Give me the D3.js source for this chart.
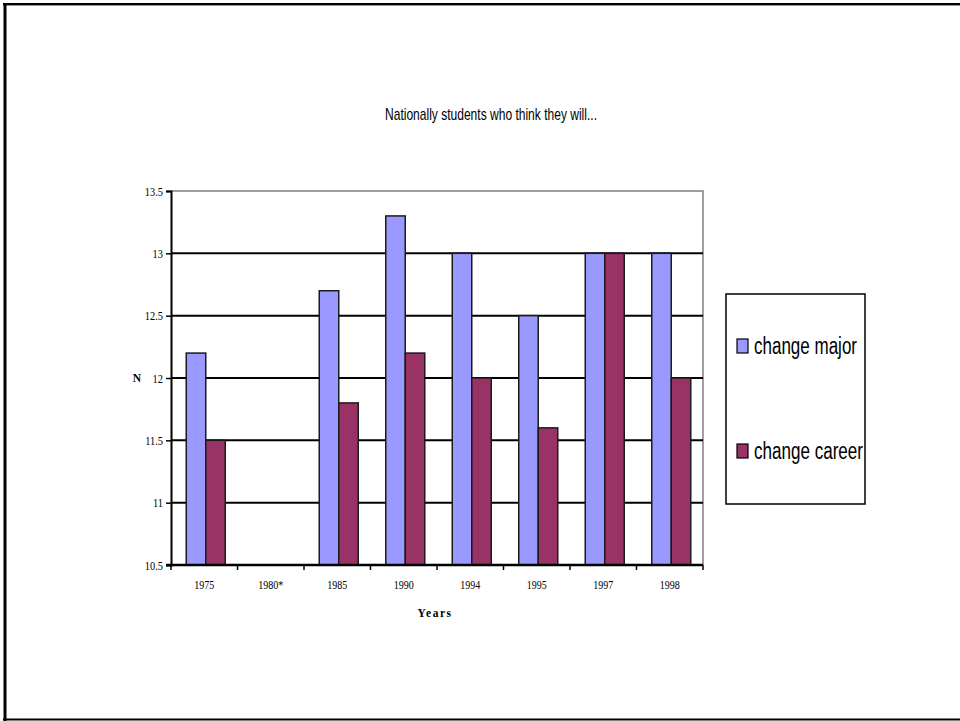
<!DOCTYPE html>
<html>
<head>
<meta charset="utf-8">
<script src="https://cdn.jsdelivr.net/npm/d3@7"></script>
<style>
  html, body { margin: 0; padding: 0; background: #fff; }
  svg { display: block; }
</style>
</head>
<body>
<svg id="chart" width="960" height="721"></svg>
<script>
// Survey years and the share of students expecting each change
const years = ["1975", "1980*", "1985", "1990", "1994", "1995", "1997", "1998"];
const changeMajor = [12.2, null, 12.7, 13.3, 13.0, 12.5, 13.0, 13.0];
const changeCareer = [11.5, null, 11.8, 12.2, 12.0, 11.6, 13.0, 12.0];
const seriesNames = ["change major", "change career"];
const seriesColors = ["#9999FF", "#993366"];
const yTicks = [10.5, 11, 11.5, 12, 12.5, 13, 13.5];

const svg = d3.select("#chart");

// Slide frame
svg.append("line").attr("x1", 3).attr("x2", 960).attr("y1", 4).attr("y2", 4)
  .attr("stroke", "#000").attr("stroke-width", 2);
svg.append("line").attr("x1", 3).attr("x2", 960).attr("y1", 5.5).attr("y2", 5.5)
  .attr("stroke", "#999").attr("stroke-width", 1);
svg.append("line").attr("x1", 5).attr("x2", 5).attr("y1", 3).attr("y2", 721)
  .attr("stroke", "#000").attr("stroke-width", 3);
svg.append("line").attr("x1", 3).attr("x2", 960).attr("y1", 719.5).attr("y2", 719.5)
  .attr("stroke", "#000").attr("stroke-width", 2);

// Title
svg.append("text")
  .attr("x", 385).attr("y", 120)
  .attr("font-family", "Liberation Sans, Arial, sans-serif")
  .attr("font-size", 17)
  .attr("textLength", 212).attr("lengthAdjust", "spacingAndGlyphs")
  .attr("fill", "#000")
  .text("Nationally students who think they will...");

const plot = { left: 171, right: 703, top: 191, bottom: 565 };

const x = d3.scaleBand().domain(years).range([plot.left, plot.right]);
const y = d3.scaleLinear().domain([10.5, 13.5]).range([plot.bottom, plot.top]);

// Plot area border (top and right)
svg.append("path")
  .attr("d", `M${plot.left},${plot.top}H${plot.right}V${plot.bottom}`)
  .attr("fill", "none").attr("stroke", "#808080").attr("stroke-width", 1.5);

// Gridlines
svg.append("g").selectAll("line")
  .data(yTicks.filter(t => t > 10.5 && t < 13.5))
  .join("line")
  .attr("x1", plot.left).attr("x2", plot.right)
  .attr("y1", d => y(d)).attr("y2", d => y(d))
  .attr("stroke", "#000").attr("stroke-width", 2);

// Bars
const barW = 19.5;
const groups = svg.append("g").selectAll("g")
  .data(years.map((yr, i) => ({ yr, vals: [changeMajor[i], changeCareer[i]] })))
  .join("g");

groups.selectAll("rect")
  .data(d => d.vals.map((v, k) => ({ yr: d.yr, v, k })).filter(e => e.v != null))
  .join("rect")
  .attr("x", d => x(d.yr) + x.bandwidth() / 2 - barW + 1.5 + d.k * barW)
  .attr("y", d => y(d.v))
  .attr("width", barW)
  .attr("height", d => y(10.5) - y(d.v))
  .attr("fill", d => seriesColors[d.k])
  .attr("stroke", "#1a1a1a").attr("stroke-width", 1.5);

// Y axis
const sx = 0.8;
const yAxis = svg.append("g")
  .attr("transform", `translate(${plot.left},0)`)
  .call(d3.axisLeft(y).tickValues(yTicks).tickSize(5).tickPadding(5).tickFormat(d3.format("")));
yAxis.select(".domain").attr("stroke", "#000").attr("stroke-width", 2);
yAxis.selectAll(".tick line").attr("stroke", "#000").attr("stroke-width", 1.5);
yAxis.selectAll("text")
  .attr("font-family", "Liberation Serif, Times New Roman, serif")
  .attr("font-size", 13).attr("fill", "#000")
  .attr("transform", `scale(${sx},1)`)
  .attr("x", -8 / sx);

// X axis with ticks at category boundaries
const xAxisG = svg.append("g").attr("transform", `translate(0,${plot.bottom})`);
xAxisG.append("line").attr("x1", plot.left - 5).attr("x2", plot.right)
  .attr("y1", 0).attr("y2", 0).attr("stroke", "#000").attr("stroke-width", 2.5);
xAxisG.selectAll("line.tk")
  .data(years.map(d => x(d)).concat([plot.right]))
  .join("line").attr("class", "tk")
  .attr("x1", d => d).attr("x2", d => d).attr("y1", 0).attr("y2", 5)
  .attr("stroke", "#000").attr("stroke-width", 1.5);
xAxisG.selectAll("text")
  .data(years)
  .join("text")
  .attr("transform", d => `translate(${x(d) + x.bandwidth() / 2},24) scale(${sx},1)`)
  .attr("text-anchor", "middle")
  .attr("font-family", "Liberation Serif, Times New Roman, serif")
  .attr("font-size", 12.5).attr("fill", "#000")
  .text(d => d);

// Axis titles
svg.append("text")
  .attr("x", 435).attr("y", 617)
  .attr("text-anchor", "middle")
  .attr("font-family", "Liberation Serif, Times New Roman, serif")
  .attr("font-weight", "bold").attr("font-size", 11.5)
  .attr("letter-spacing", 1.5)
  .text("Years");
svg.append("text")
  .attr("x", 137).attr("y", 382)
  .attr("text-anchor", "middle")
  .attr("font-family", "Liberation Serif, Times New Roman, serif")
  .attr("font-weight", "bold").attr("font-size", 11.5)
  .text("N");

// Legend
const legend = svg.append("g");
legend.append("rect")
  .attr("x", 726).attr("y", 294).attr("width", 139).attr("height", 210)
  .attr("fill", "#fff").attr("stroke", "#000").attr("stroke-width", 1.5);
const items = legend.selectAll("g.item")
  .data(seriesNames)
  .join("g").attr("class", "item")
  .attr("transform", (d, i) => `translate(737,${339 + i * 105})`);
items.append("rect")
  .attr("width", 11).attr("height", 14)
  .attr("fill", (d, i) => seriesColors[i])
  .attr("stroke", "#000").attr("stroke-width", 1.2);
items.append("text")
  .attr("x", 17).attr("y", 15)
  .attr("font-family", "Liberation Sans, Arial, sans-serif")
  .attr("font-size", 23)
  .attr("textLength", (d, i) => i === 0 ? 103 : 109)
  .attr("lengthAdjust", "spacingAndGlyphs")
  .attr("fill", "#000")
  .text(d => d);
</script>
</body>
</html>
